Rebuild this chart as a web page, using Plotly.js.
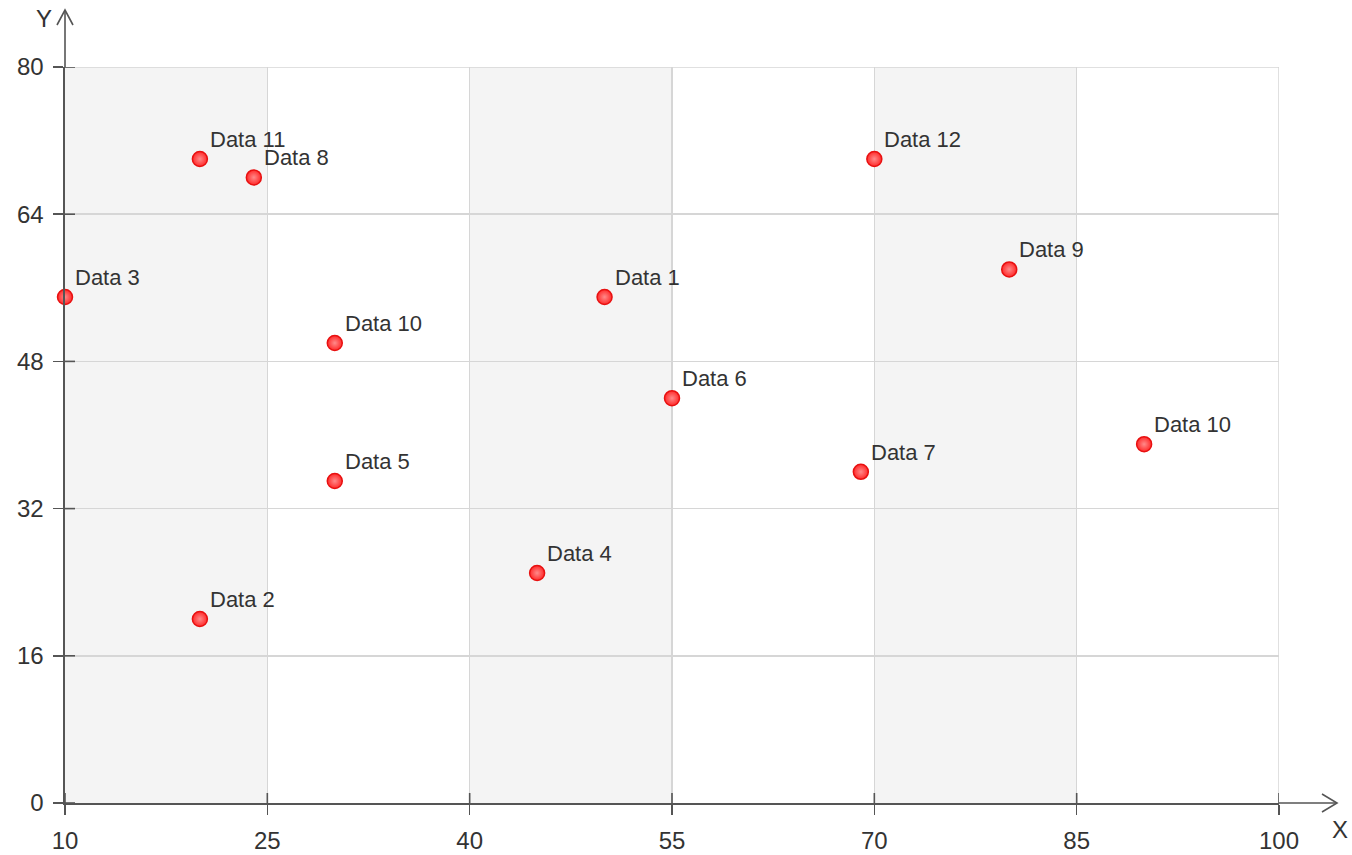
<!DOCTYPE html>
<html>
<head>
<meta charset="utf-8">
<script src="https://cdn.plot.ly/plotly-3.0.1.min.js"></script>
<style>html,body{margin:0;padding:0;background:#fff;}#chart{width:1352px;height:855px;}</style>
</head>
<body>
<div id="chart"></div>
<script>
// ---- data ----
const labels = ["Data 1","Data 2","Data 3","Data 4","Data 5","Data 6","Data 7","Data 8","Data 9","Data 10","Data 11","Data 12","Data 10"];
const xValues = [50, 20, 10, 45, 30, 55, 69, 24, 80, 30, 20, 70, 90];
const yValues = [55, 20, 55, 25, 35, 44, 36, 68, 58, 50, 70, 70, 39];
const xTicks = [10, 25, 40, 55, 70, 85, 100];
const yTicks = [0, 16, 32, 48, 64, 80];

// ---- layout constants ----
const W = 1352, H = 855;
const M = {l: 65, r: 73, t: 67, b: 52};
const PW = W - M.l - M.r, PH = H - M.t - M.b;
const px = v => v / PW;   // pixel offset -> paper x
const py = v => v / PH;   // pixel offset -> paper y

const axisCol = '#555555';
const gridCol = '#d6d6d6';
const textCol = '#333333';
const fontFam = 'Liberation Sans, Arial, sans-serif';

const shapes = [];
// alternating column bands
for (let i = 0; i < xTicks.length - 1; i += 2) {
  shapes.push({type:'rect', xref:'x', yref:'paper', x0:xTicks[i], x1:xTicks[i+1], y0:0, y1:1,
    fillcolor:'#f4f4f4', line:{width:0}, layer:'below'});
}
// gridlines at the far ends (plotly omits them)
shapes.push({type:'line', xref:'x', yref:'paper', x0:xTicks[xTicks.length-1], x1:xTicks[xTicks.length-1], y0:0, y1:1,
  line:{color:gridCol, width:1.5}, layer:'below'});
shapes.push({type:'line', xref:'paper', yref:'y', x0:0, x1:1, y0:yTicks[yTicks.length-1], y1:yTicks[yTicks.length-1],
  line:{color:gridCol, width:1.5}, layer:'below'});
// inward tick marks
xTicks.forEach(v => shapes.push({type:'line', xref:'x', yref:'paper', x0:v, x1:v, y0:0, y1:py(10),
  line:{color:axisCol, width:1.6}}));
yTicks.forEach(v => shapes.push({type:'line', xref:'paper', yref:'y', x0:0, x1:px(10), y0:v, y1:v,
  line:{color:axisCol, width:1.6}}));
// axis extensions with open arrowheads
shapes.push({type:'line', xref:'paper', yref:'paper', x0:0, x1:0, y0:1, y1:1+py(56), line:{color:axisCol, width:1.6}});
shapes.push({type:'path', xref:'paper', yref:'paper',
  path:`M ${px(-8)} ${1+py(42)} L 0 ${1+py(57)} L ${px(8)} ${1+py(42)}`, line:{color:axisCol, width:1.6}});
shapes.push({type:'line', xref:'paper', yref:'paper', x0:1, x1:1+px(58), y0:0, y1:0, line:{color:axisCol, width:1.6}});
shapes.push({type:'path', xref:'paper', yref:'paper',
  path:`M ${1+px(43)} ${py(9)} L ${1+px(58)} 0 L ${1+px(43)} ${py(-9)}`, line:{color:axisCol, width:1.6}});

const annotations = labels.map((t, i) => ({
  x: xValues[i], y: yValues[i], xref:'x', yref:'y', text: t, showarrow:false,
  xanchor:'left', yanchor:'bottom', xshift: 8, yshift: 5,
  font:{family:fontFam, size:22, color:textCol}
}));
annotations.push({xref:'paper', yref:'paper', x:px(-21), y:1+py(49), text:'Y', showarrow:false,
  xanchor:'center', yanchor:'middle', font:{family:fontFam, size:24, color:textCol}});
annotations.push({xref:'paper', yref:'paper', x:1+px(61), y:py(-27), text:'X', showarrow:false,
  xanchor:'center', yanchor:'middle', font:{family:fontFam, size:24, color:textCol}});

const trace = {
  type:'scatter', mode:'markers', x:xValues, y:yValues, cliponaxis:false,
  marker:{size:15, color:'#ff2a2a', gradient:{type:'radial', color:'#ff8a8a'},
    line:{color:'#e81010', width:1.5}},
  hoverinfo:'skip'
};

const baseAxis = {
  showgrid:true, gridcolor:gridCol, gridwidth:1.5, zeroline:false,
  showline:true, linecolor:axisCol, linewidth:1.6,
  ticks:'outside', ticklen:10, tickcolor:axisCol, tickwidth:1.6,
  tickfont:{family:fontFam, size:24, color:textCol}, tickmode:'array'
};

const layout = {
  width:W, height:H, margin:M, paper_bgcolor:'#ffffff', plot_bgcolor:'#ffffff',
  showlegend:false,
  xaxis: Object.assign({}, baseAxis, {range:[xTicks[0], xTicks[xTicks.length-1]], tickvals:xTicks,
    ticktext:xTicks.map(String), ticklabelstandoff:6}),
  yaxis: Object.assign({}, baseAxis, {range:[yTicks[0], yTicks[yTicks.length-1]], tickvals:yTicks,
    ticktext:yTicks.map(String), ticklabelstandoff:5}),
  shapes: shapes,
  annotations: annotations
};

Plotly.newPlot('chart', [trace], layout, {displayModeBar:false, staticPlot:true});
</script>
</body>
</html>
